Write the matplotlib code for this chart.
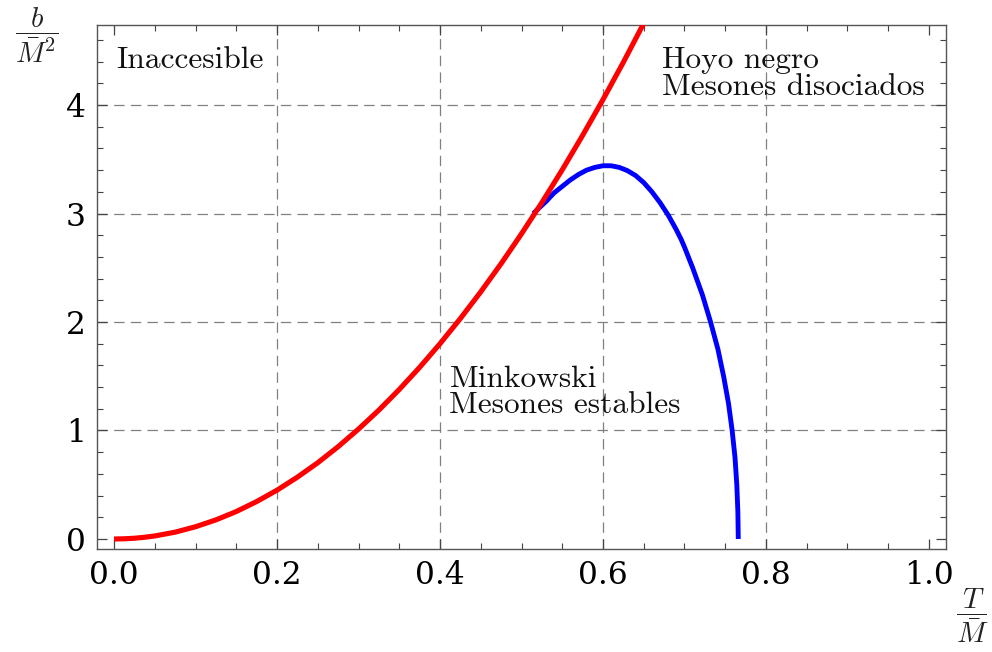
import matplotlib
matplotlib.use("Agg")
import matplotlib.pyplot as plt
from matplotlib.ticker import MultipleLocator, FixedLocator

plt.rcParams["mathtext.fontset"] = "cm"
plt.rcParams["lines.scale_dashes"] = False

# red curve: horizon / Minkowski boundary
t_red = [0.0, 0.0125, 0.025, 0.0375, 0.05, 0.075, 0.1, 0.125, 0.15, 0.175, 0.2,
         0.225, 0.25, 0.275, 0.3, 0.325, 0.35, 0.375, 0.4, 0.425, 0.45, 0.475,
         0.5, 0.525, 0.55, 0.575, 0.6, 0.625, 0.65]
b_red = [0.0, 0.002, 0.007, 0.016, 0.028, 0.063, 0.113, 0.176, 0.253, 0.345, 0.45,
         0.57, 0.703, 0.851, 1.013, 1.188, 1.378, 1.582, 1.80, 2.032, 2.278, 2.538,
         2.813, 3.101, 3.403, 3.72, 4.05, 4.394, 4.753]

# blue curve: meson melting line
t_blue = [0.5145, 0.52, 0.53, 0.54, 0.55, 0.56, 0.57, 0.58, 0.59, 0.60, 0.61,
          0.62, 0.63, 0.64, 0.65, 0.66, 0.67, 0.68, 0.69, 0.696, 0.70, 0.71,
          0.722, 0.732, 0.741, 0.748, 0.754, 0.7585, 0.762, 0.7642, 0.7655, 0.766]
b_blue = [3.00, 3.04, 3.11, 3.19, 3.25, 3.31, 3.36, 3.40, 3.425, 3.44, 3.44,
          3.425, 3.395, 3.35, 3.285, 3.20, 3.10, 2.985, 2.85, 2.76, 2.69, 2.50,
          2.25, 2.00, 1.75, 1.50, 1.25, 1.00, 0.75, 0.50, 0.25, 0.0]

xticks = [0.0, 0.2, 0.4, 0.6, 0.8, 1.0]
yticks = [0, 1, 2, 3, 4]
xgrid = [0.2, 0.4, 0.6, 0.8]
ygrid = [1, 2, 3, 4]

fig = plt.figure(figsize=(9.92, 6.52), dpi=100)
ax = fig.add_axes([97 / 992, 1 - 549 / 652, (946 - 97) / 992, (549 - 24.5) / 652])

for g in xgrid:
    ax.axvline(g, color="#808080", lw=0.9, dashes=(7.5, 4.5), zorder=1)
for g in ygrid:
    ax.axhline(g, color="#808080", lw=0.9, dashes=(7.5, 4.5), zorder=1)

ax.plot(t_blue, b_blue, color="#0000ff", lw=3.5, zorder=3,
        solid_capstyle="butt", solid_joinstyle="round")
ax.plot(t_red, b_red, color="#ff0000", lw=3.7, zorder=4,
        solid_capstyle="butt", solid_joinstyle="round")

ax.set_xlim(-0.0209, 1.0209)
ax.set_ylim(-0.0922, 4.742)

ax.xaxis.set_major_locator(FixedLocator(xticks))
ax.yaxis.set_major_locator(FixedLocator(yticks))
ax.xaxis.set_minor_locator(MultipleLocator(0.05))
ax.yaxis.set_minor_locator(MultipleLocator(0.2))
ax.set_xticklabels(["0.0", "0.2", "0.4", "0.6", "0.8", "1.0"])
ax.set_yticklabels(["0", "1", "2", "3", "4"])

for s in ax.spines.values():
    s.set_color("#555555")
    s.set_linewidth(1.0)
ax.tick_params(which="both", direction="in", top=True, right=True, color="#444444")
ax.tick_params(which="major", length=7, width=0.9, pad=8)
ax.tick_params(which="minor", length=4, width=0.8)
for lab in ax.get_xticklabels() + ax.get_yticklabels():
    lab.set_fontfamily("DejaVu Serif")
    lab.set_fontsize(22.5)

txt = dict(fontfamily="cmr10", fontsize=22.6, color="#111111", va="baseline", ha="left")
ax.text(0.0025, 4.34, "Inaccesible", **txt)
ax.text(0.672, 4.34, "Hoyo negro", **txt)
ax.text(0.672, 4.09, "Mesones disociados", **txt)
ax.text(0.4115, 1.404, "Minkowski", **txt)
ax.text(0.4115, 1.164, "Mesones estables", **txt)

fig.text(37 / 992, 1 - 36 / 652, r"$\dfrac{b}{\bar{M}^2}$", fontsize=21,
         ha="center", va="center", color="#222222")
fig.text(972 / 992, 1 - 616 / 652, r"$\dfrac{T}{\bar{M}}$", fontsize=21,
         ha="center", va="center", color="#222222")

fig.savefig("out.png", dpi=100)
